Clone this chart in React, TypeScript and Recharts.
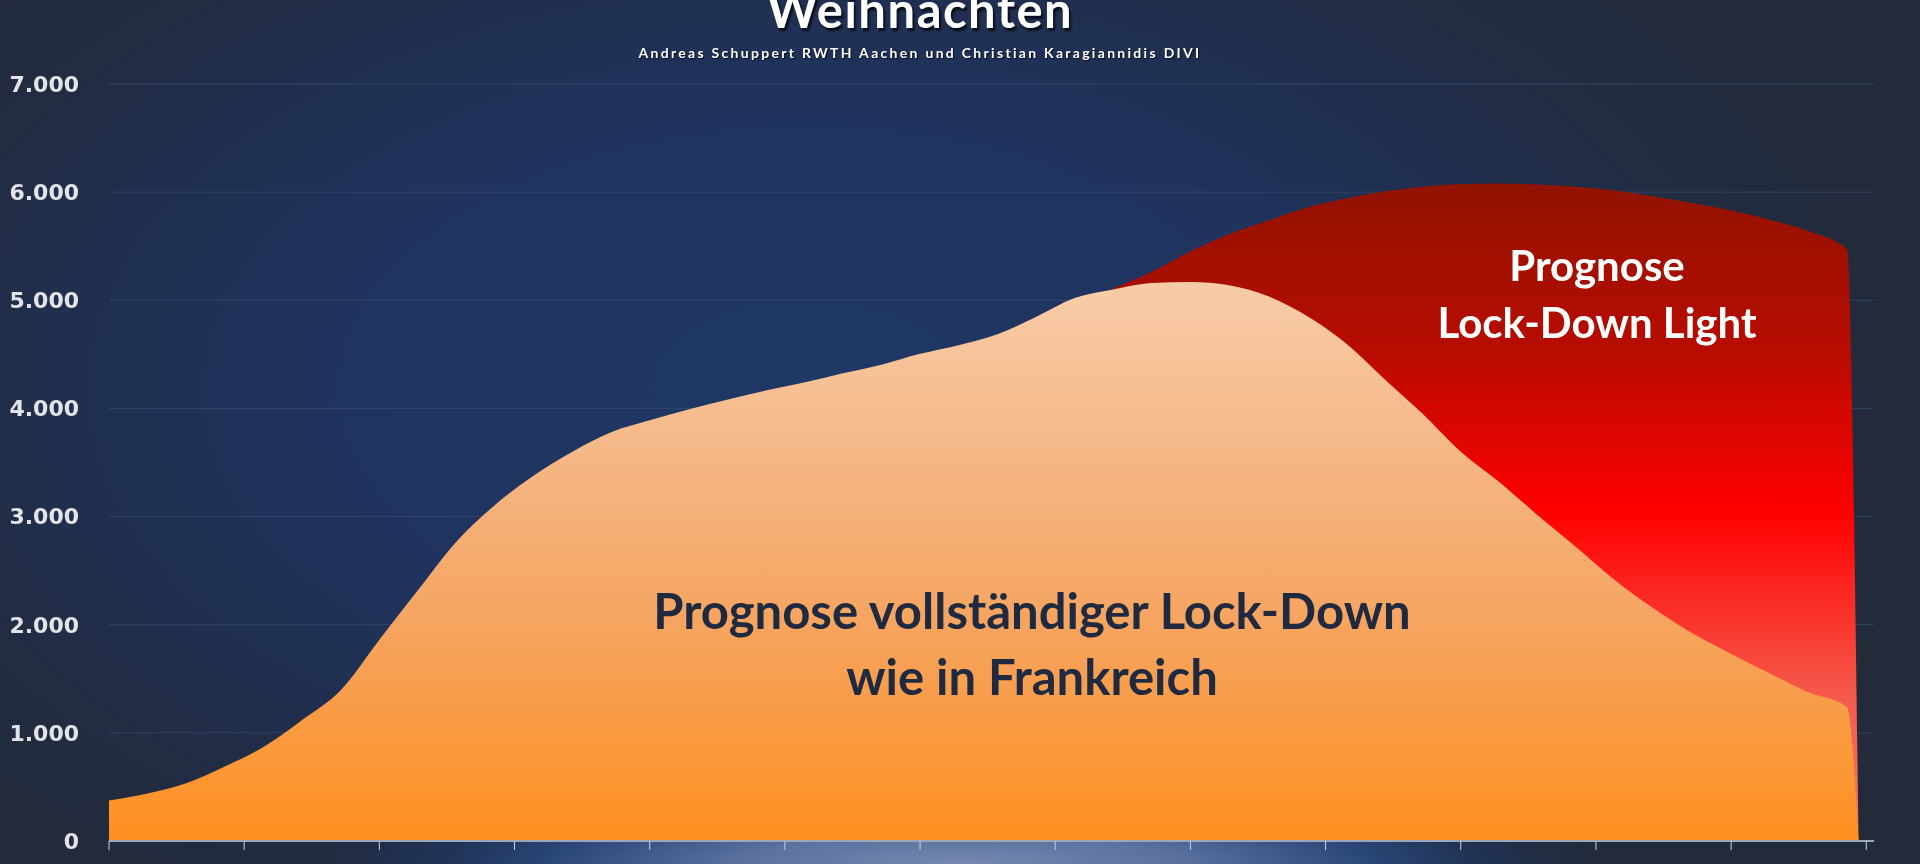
import { AreaChart, Area, XAxis, YAxis, CartesianGrid } from 'recharts';

// days since start of the forecast window (ticks are weekly)
const days = [
  0, 2, 4, 6, 8, 10, 12, 14, 16, 18, 20, 22, 24, 26, 28, 30, 32, 34, 36, 38, 40, 42, 44, 46,
  48, 50, 52, 54, 56, 58, 60, 62, 64, 66, 68, 70, 72, 74, 76, 78, 80, 82, 84, 86, 88, 90, 90.6,
];

// full lock-down (like France)
const fullLockdown = [
  374, 440, 535, 690, 870, 1120, 1395, 1860, 2320, 2770, 3110, 3380, 3600, 3780, 3890, 3990,
  4080, 4165, 4240, 4325, 4405, 4505, 4585, 4685, 4845, 5020, 5100, 5160, 5170, 5140, 5040,
  4860, 4610, 4280, 3955, 3600, 3320, 3010, 2715, 2410, 2150, 1920, 1730, 1550, 1375, 1240, 0,
];

// lock-down light (only differs after day 52)
const lockdownLight = [
  null, null, null, null, null, null, null, null, null, null, null, null, null, null, null, null,
  null, null, null, null, null, null, null, null, null, null, 5110, 5265, 5450, 5610, 5735,
  5855, 5940, 6005, 6050, 6075, 6080, 6070, 6050, 6015, 5960, 5900, 5830, 5745, 5640, 5470, 0,
];

const xTicks = [0, 7, 14, 21, 28, 35, 42, 49, 56, 63, 70, 77, 84, 91];
const yTicks = [0, 1000, 2000, 3000, 4000, 5000, 6000, 7000];

const title = 'Weihnachten';
const subtitle = 'Andreas Schuppert RWTH Aachen und Christian Karagiannidis DIVI';

const data = days.map((d, i) => ({ day: d, full: fullLockdown[i], light: lockdownLight[i] }));

const fmt = (v: number) => String(v).replace(/\B(?=(\d{3})+(?!\d))/g, '.');

export default function App() {
  return (
    <div
      style={{
        position: 'fixed',
        left: 0,
        top: 0,
        width: 1920,
        height: 864,
        overflow: 'hidden',
        background:
          'radial-gradient(ellipse 60% 75% at 42% 45%, #1f3866 0%, #1f335d 45%, #222b3f 85%, #232a3a 100%)',
        fontFamily: 'Lato, sans-serif',
      }}
    >
      <div
        style={{
          position: 'absolute',
          left: 0,
          top: 0,
          width: 1920,
          height: 864,
          background:
            'radial-gradient(ellipse 33% 10% at 50% 100%, #7589ae 0%, #5a71a0 35%, #2a4677 65%, rgba(31,58,106,0.5) 82%, rgba(31,58,106,0) 100%)',
        }}
      />
      <div
        style={{
          position: 'absolute',
          left: 0,
          width: 1840,
          top: -20,
          height: 60,
          textAlign: 'center',
          color: '#ffffff',
          fontWeight: 700,
          fontSize: 49,
          letterSpacing: 1.5,
          textShadow: '2px 3px 2px #0a0f1a',
        }}
      >
        {title}
      </div>
      <div
        style={{
          position: 'absolute',
          left: 0,
          width: 1840,
          top: 44,
          textAlign: 'center',
          color: '#ffffff',
          fontWeight: 700,
          fontSize: 14,
          letterSpacing: 2.3,
          textShadow: '1px 1px 1px #0a0f1a',
        }}
      >
        {subtitle}
      </div>
      <div style={{ position: 'absolute', left: 0, top: 0 }}>
        <AreaChart
          width={1920}
          height={864}
          data={data}
          margin={{ top: 84, right: 46, bottom: 8, left: 0 }}
        >
          <defs>
            <linearGradient id="gFull" x1="0" y1="0" x2="0" y2="1">
              <stop offset="0%" stopColor="#f8cca9" />
              <stop offset="35%" stopColor="#f5b481" />
              <stop offset="65%" stopColor="#f6a25a" />
              <stop offset="100%" stopColor="#ff9020" />
            </linearGradient>
            <linearGradient id="gLight" x1="0" y1="0" x2="0" y2="1">
              <stop offset="0%" stopColor="#911300" />
              <stop offset="25%" stopColor="#b70c00" />
              <stop offset="50%" stopColor="#ff0000" />
              <stop offset="78%" stopColor="#f55a4c" />
              <stop offset="100%" stopColor="#f57a5c" />
            </linearGradient>
          </defs>
          <CartesianGrid vertical={false} stroke="#3b4d70" strokeOpacity={0.7} />
          <XAxis
            dataKey="day"
            type="number"
            domain={[0, 91.4]}
            ticks={xTicks}
            tickFormatter={() => ''}
            height={15}
            tickSize={9}
            axisLine={{ stroke: '#9aa6ba', strokeWidth: 2 }}
            tickLine={{ stroke: '#c8d0dc' }}
          />
          <YAxis
            domain={[0, 7000]}
            ticks={yTicks}
            width={109}
            tickSize={0}
            tickMargin={30}
            axisLine={false}
            tickLine={false}
            tickFormatter={fmt}
            tick={{ fill: '#e2e4e8', fontSize: 22, fontWeight: 700, fontFamily: 'DejaVu Sans' }}
          />
          <Area
            type="monotone"
            dataKey="light"
            stroke="none"
            fill="url(#gLight)"
            fillOpacity={1}
            isAnimationActive={false}
          />
          <Area
            type="monotone"
            dataKey="full"
            stroke="none"
            fill="url(#gFull)"
            fillOpacity={1}
            isAnimationActive={false}
          />
        </AreaChart>
      </div>
      <div
        style={{
          position: 'absolute',
          left: 582,
          width: 900,
          top: 577,
          textAlign: 'center',
          color: '#1f2a40',
          fontWeight: 700,
          fontSize: 49,
          lineHeight: '66px',
        }}
      >
        Prognose vollständiger Lock-Down
        <br />
        wie in Frankreich
      </div>
      <div
        style={{
          position: 'absolute',
          left: 1397,
          width: 400,
          top: 237,
          textAlign: 'center',
          color: '#ffffff',
          fontWeight: 700,
          fontSize: 42,
          lineHeight: '57px',
        }}
      >
        Prognose
        <br />
        Lock-Down Light
      </div>
    </div>
  );
}
